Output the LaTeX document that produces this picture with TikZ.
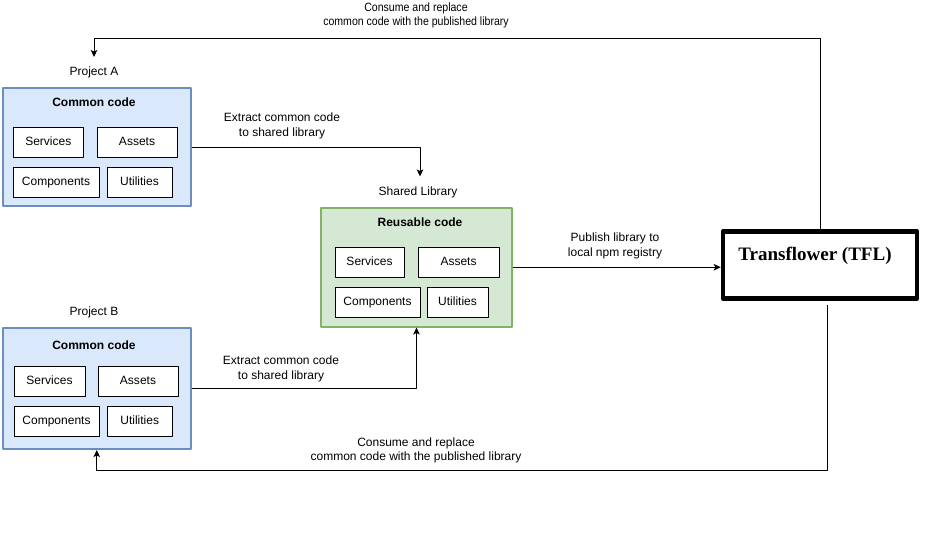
\documentclass[tikz,border=0pt]{standalone}
\usepackage{fontspec}
\setmainfont{Liberation Sans}
\newfontfamily\tflfont{Liberation Serif}
\newfontfamily\narrowfont[FakeStretch=0.88]{Liberation Sans}
\usetikzlibrary{arrows.meta}
\definecolor{projfill}{HTML}{DAE8FC}
\definecolor{projline}{HTML}{6C8EBF}
\definecolor{libfill}{HTML}{D5E8D4}
\definecolor{libline}{HTML}{82B366}
\begin{document}
\begin{tikzpicture}[x=1pt, y=-1pt, font=\fontsize{12}{14.3}\selectfont, line join=round, >={Stealth[length=7pt,width=6.5pt,inset=1.5pt]},
	part/.style={draw, fill=white, line width=0.8pt, minimum height=30pt, inner sep=0pt, text height=8.6pt, text depth=2.6pt},
	projbox/.style={draw=projline, fill=projfill, line width=2pt, inner sep=0pt},
	libbox/.style={draw=libline, fill=libfill, line width=2pt, inner sep=0pt},
	lbl/.style={align=center, inner sep=0pt},
	flow/.style={line width=0.9pt, ->}]
	\useasboundingbox (0,0) rectangle (933,543);
	\def\ytop{38} \def\ybot{470} % return lines
	% Project A
	\node[lbl] (prjaname) at (94,72.5) {Project A};
	\node[projbox, minimum width=188.5pt, minimum height=118pt] (prja) at (96.75,147) {};
	\node[lbl, font=\fontsize{12}{14}\selectfont\bfseries] (prjatitle) at (94,102.5) {Common code};
	\node[part, minimum width=70pt] (aserv) at (48.3,142.4) {Services};
	\node[part, minimum width=80pt] (aasset) at (137,142.4) {Assets};
	\node[part, minimum width=86pt] (acomp) at (56,182) {Components};
	\node[part, minimum width=65pt] (autil) at (139.5,182) {Utilities};
	% Project B
	\node[lbl] (prjbname) at (94,312.5) {Project B};
	\node[projbox, minimum width=188.5pt, minimum height=121pt] (prjb) at (96.75,388.5) {};
	\node[lbl, font=\fontsize{12}{14}\selectfont\bfseries] (prjbtitle) at (94,345.7) {Common code};
	\node[part, minimum width=71pt] (bserv) at (49.5,381) {Services};
	\node[part, minimum width=80pt] (basset) at (138,381) {Assets};
	\node[part, minimum width=85pt] (bcomp) at (56.5,421) {Components};
	\node[part, minimum width=65pt] (butil) at (139.75,421) {Utilities};
	% Shared library
	\node[lbl] (sharedname) at (418,192) {Shared Library};
	\node[libbox, minimum width=191pt, minimum height=118.5pt] (shared) at (416.5,267.25) {};
	\node[lbl, font=\fontsize{12}{14}\selectfont\bfseries] (sharedtitle) at (420,222.5) {Reusable code};
	\node[part, minimum width=69pt] (sserv) at (369.5,262.5) {Services};
	\node[part, minimum width=81pt] (sasset) at (458.5,262.5) {Assets};
	\node[part, minimum width=85pt] (scomp) at (377.5,302.3) {Components};
	\node[part, minimum width=61pt] (sutil) at (457.5,302.3) {Utilities};
	% Transflower
	\node[draw, line width=4.5pt, minimum width=194pt, minimum height=67pt, inner sep=0pt] (tfl) at (820,265) {};
	\node[lbl, font=\tflfont\fontsize{19}{22}\selectfont\bfseries] (tfltext) at (815,256) {Transflower (TFL)};
	% arrows
	\coordinate (atip) at (420,176.5);
	\draw[flow] (prja.east) -| (atip);
	\node[lbl] (extracta) at (282,126) {Extract common code\\to shared library};
	\draw[flow] (prjb.east) -| (shared.south);
	\node[lbl] (extractb) at (281,369) {Extract common code\\to shared library};
	\draw[flow] (shared.east) -- (shared.east -| tfl.west);
	\node[lbl] (publish) at (615,246) {Publish library to\\local npm registry};
	\coordinate (topbend) at (820,\ytop);
	\coordinate (toptip) at (94,57);
	\draw[flow] (tfl.north) -- (topbend) -| (toptip);
	\node[lbl, font=\narrowfont\fontsize{12}{14}\selectfont] (consumetop) at (416,15) {Consume and replace\\common code with the published library};
	\coordinate (botstart) at (827,305);
	\coordinate (botbend) at (827,\ybot);
	\draw[flow] (botstart) -- (botbend) -| (prjb.south);
	\node[lbl] (consumebot) at (416,450.5) {Consume and replace\\common code with the published library};
\end{tikzpicture}
\end{document}
